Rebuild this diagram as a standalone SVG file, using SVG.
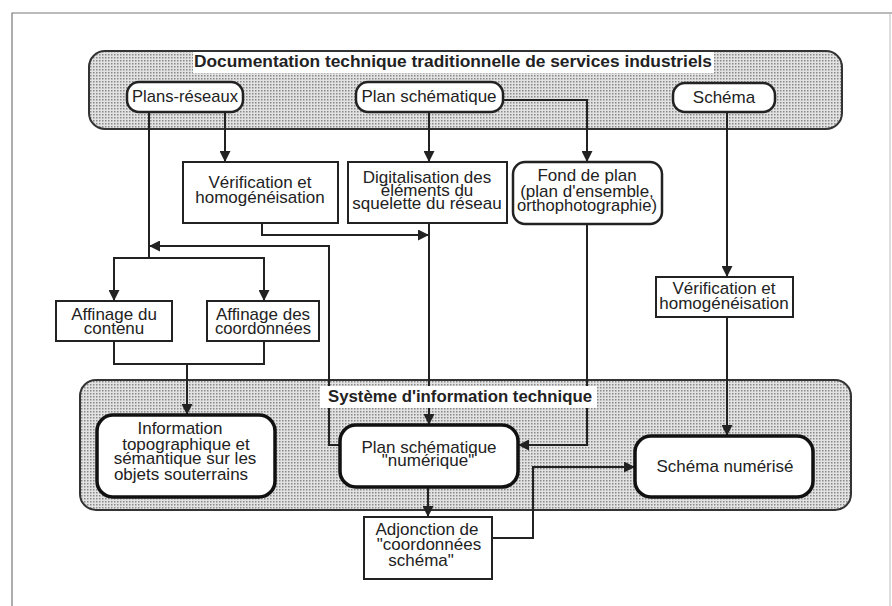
<svg xmlns="http://www.w3.org/2000/svg" width="892" height="606" viewBox="0 0 892 606">
<defs>
<pattern id="dots" width="3" height="3" patternUnits="userSpaceOnUse">
<rect width="3" height="3" fill="#e2e2e2"/>
<rect x="0" y="0" width="1.5" height="1.5" fill="#888"/>
</pattern>
<marker id="arr" markerWidth="11" markerHeight="11" refX="11" refY="5.5" orient="auto" markerUnits="userSpaceOnUse">
<path d="M0,0 L11,5.5 L0,11 z" fill="#222"/>
</marker>
</defs>
<style>
text{font-family:"Liberation Sans",Arial,Helvetica,sans-serif;font-size:17px;fill:#222;text-anchor:middle}
.title{font-weight:bold;font-size:16px}
.panel{fill:url(#dots);stroke:#333;stroke-width:2}
.rbox{fill:#fff;stroke:#222;stroke-width:2.5}
.box{fill:#fff;stroke:#222;stroke-width:2}
.tbox{fill:#fff;stroke:#111;stroke-width:3.5}
.lbl{fill:#fff}
#connectors path{fill:none;stroke:#222;stroke-width:2}
.a{marker-end:url(#arr)}
</style>
<rect width="892" height="606" fill="#fff"/>
<path d="M12,606 V13 H892" fill="none" stroke="#777" stroke-width="1.2"/>
<path d="M890,13 V606" fill="none" stroke="#bbb" stroke-width="1"/>

<g id="panel-top">
<rect class="panel" x="89" y="51" width="753" height="78" rx="16"/>
<rect class="lbl" x="193" y="52" width="521" height="21"/>
<text class="title" x="453" y="67" textLength="518" lengthAdjust="spacingAndGlyphs">Documentation technique traditionnelle de services industriels</text>
</g>

<g id="panel-bottom">
<rect class="panel" x="80" y="380" width="771" height="130" rx="16"/>
</g>

<g id="plans-reseaux">
<rect class="rbox" x="127" y="82" width="116" height="30" rx="12"/>
<text x="185" y="102" textLength="106" lengthAdjust="spacingAndGlyphs">Plans-réseaux</text>
</g>
<g id="plan-schematique">
<rect class="rbox" x="356" y="82" width="147" height="30" rx="12"/>
<text x="429" y="102">Plan schématique</text>
</g>
<g id="schema">
<rect class="rbox" x="673" y="83" width="102" height="29" rx="12"/>
<text x="724" y="103">Schéma</text>
</g>

<g id="verification-1">
<rect class="box" x="183" y="162" width="155" height="61"/>
<text x="260" y="188">Vérification et</text>
<text x="260" y="203">homogénéisation</text>
</g>
<g id="digitalisation">
<rect class="box" x="348" y="162" width="159" height="61"/>
<text x="427" y="183">Digitalisation des</text>
<text x="427" y="196">éléments du</text>
<text x="427" y="209">squelette du réseau</text>
</g>
<g id="fond-de-plan">
<rect class="rbox" x="513" y="162" width="149" height="62" rx="12"/>
<text x="587" y="181">Fond de plan</text>
<text x="587" y="197">(plan d'ensemble,</text>
<text x="587" y="211" textLength="140" lengthAdjust="spacingAndGlyphs">orthophotographie)</text>
</g>
<g id="verification-2">
<rect class="box" x="656" y="277" width="137" height="40"/>
<text x="724" y="294">Vérification et</text>
<text x="724" y="309">homogénéisation</text>
</g>
<g id="affinage-contenu">
<rect class="box" x="56" y="301" width="116" height="40"/>
<text x="114" y="320">Affinage du</text>
<text x="114" y="334">contenu</text>
</g>
<g id="affinage-coordonnees">
<rect class="box" x="207" y="301" width="112" height="40"/>
<text x="263" y="320">Affinage des</text>
<text x="263" y="334" textLength="96" lengthAdjust="spacingAndGlyphs">coordonnées</text>
</g>

<g id="connectors">
<path class="a" d="M225,112 V162"/>
<path d="M149,112 V258"/>
<path class="a" d="M149,258 H114 V301"/>
<path class="a" d="M149,258 H264 V301"/>
<path class="a" d="M340,445 H329 V246 H149"/>
<path class="a" d="M429,112 V162"/>
<path class="a" d="M503,100 H587 V162"/>
<path class="a" d="M262,223 V235 H429"/>
<path class="a" d="M429,223 V425"/>
<path class="a" d="M587,224 V445 H518"/>
<path class="a" d="M727,112 V277"/>
<path class="a" d="M727,317 V436"/>
<path d="M114,341 V364 H264 V341"/>
<path class="a" d="M187,364 V415"/>
<path class="a" d="M428,487 V517"/>
<path class="a" d="M492,538 H533 V467 H635"/>
</g>

<g id="panel-bottom-title">
<rect class="lbl" x="320" y="386" width="277" height="22"/>
<text class="title" x="460" y="402" textLength="264" lengthAdjust="spacingAndGlyphs">Système d'information technique</text>
</g>

<g id="information">
<rect class="tbox" x="97" y="415" width="178" height="82" rx="16"/>
<text x="180" y="434">Information</text>
<text x="186" y="450">topographique et</text>
<text x="185" y="464">sémantique sur les</text>
<text x="181" y="480">objets souterrains</text>
</g>
<g id="plan-numerique">
<rect class="tbox" x="340" y="425" width="178" height="62" rx="16"/>
<text x="429" y="453">Plan schématique</text>
<text x="428" y="466">"numérique"</text>
</g>
<g id="schema-numerise">
<rect class="tbox" x="635" y="436" width="178" height="61" rx="16"/>
<text x="725" y="472">Schéma numérisé</text>
</g>
<g id="adjonction">
<rect class="box" x="364" y="517" width="128" height="62"/>
<text x="427" y="535">Adjonction de</text>
<text x="429" y="550">"coordonnées</text>
<text x="421" y="566">schéma"</text>
</g>
</svg>
